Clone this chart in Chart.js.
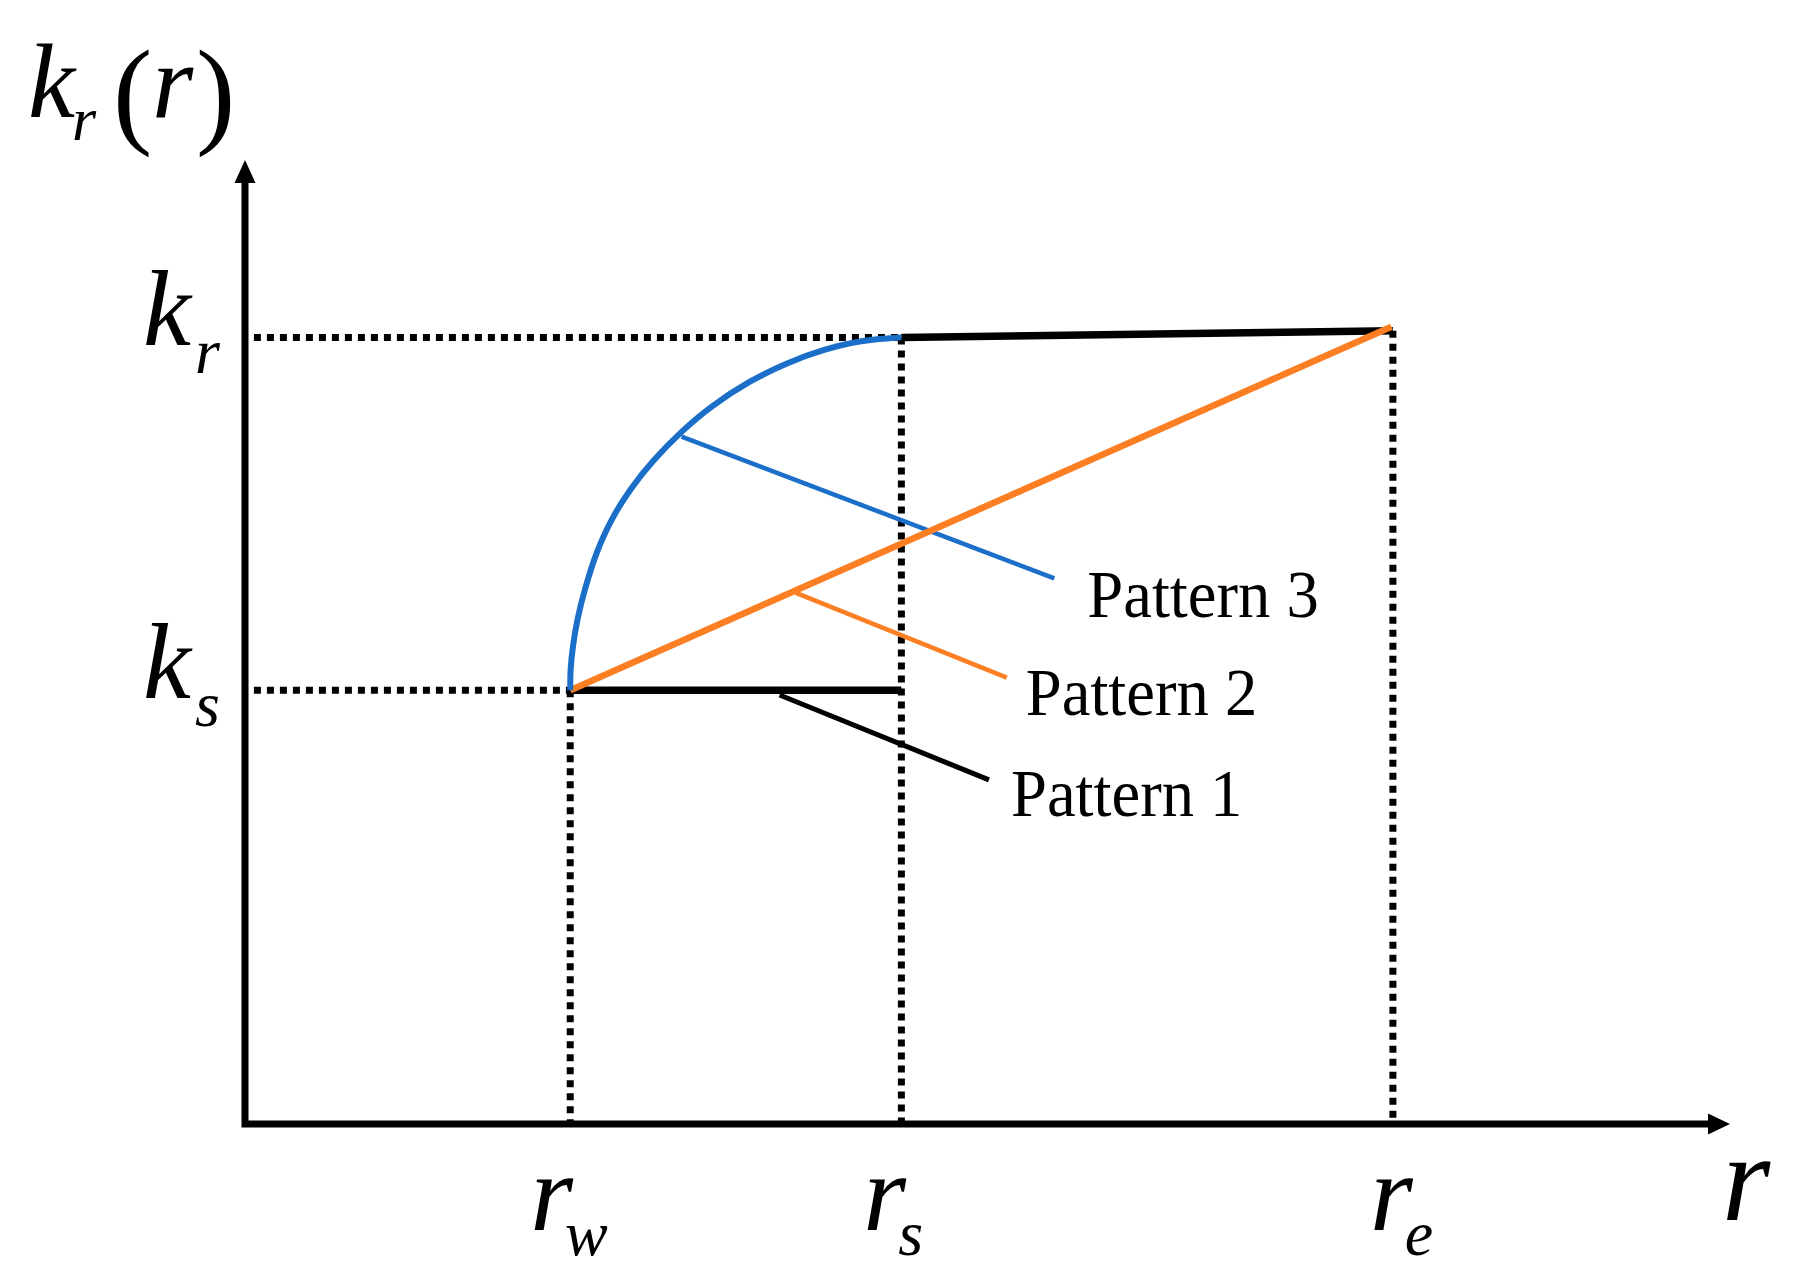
<!DOCTYPE html>
<html>
<head>
<meta charset="utf-8">
<script src="https://cdn.jsdelivr.net/npm/chart.js@4/dist/chart.umd.min.js"></script>
<style>
html,body{margin:0;padding:0;background:#fff;}
canvas{display:block;}
</style>
</head>
<body>
<canvas id="c" width="1798" height="1288"></canvas>
<script>
// ---- data (schematic units, axis origin = 0, arrow tips = 10) ----
const rw = 2.19, rs = 4.42, re = 7.73;          // radial positions
const ks = 4.50, kr = 8.16, krEnd = 8.23;       // permeability levels
const xMarkValues = [rw, rs, re];
const xMarkSubs = ['w', 's', 'e'];
const yMarkValues = [ks, kr];
const yMarkSubs = ['s', 'r'];

// Pattern 1: constant ks to rs, then kr
const pattern1Low = [{x: rw, y: ks}, {x: rs, y: ks}];
const pattern1High = [{x: rs, y: kr}, {x: re, y: krEnd}];
// Pattern 2: linear from ks at rw to kr at re
const pattern2 = [{x: rw, y: ks}, {x: 7.72, y: 8.27}];
// Pattern 3: curve rising from ks at rw to kr at rs
const pattern3 = [
  {x: 2.19, y: 4.50}, {x: 2.193, y: 4.72}, {x: 2.21, y: 4.97}, {x: 2.24, y: 5.24},
  {x: 2.29, y: 5.55}, {x: 2.37, y: 5.93}, {x: 2.47, y: 6.27}, {x: 2.60, y: 6.59},
  {x: 2.75, y: 6.88}, {x: 2.94, y: 7.18}, {x: 3.15, y: 7.45}, {x: 3.40, y: 7.70},
  {x: 3.65, y: 7.89}, {x: 3.90, y: 8.03}, {x: 4.15, y: 8.12}, {x: 4.42, y: 8.16}
];
// callout leader lines
const leader3 = [{x: 2.94, y: 7.13}, {x: 5.45, y: 5.66}];
const leader2 = [{x: 3.71, y: 5.51}, {x: 5.13, y: 4.63}];
const leader1 = [{x: 3.60, y: 4.45}, {x: 5.01, y: 3.57}];
const patternNames = ['Pattern 3', 'Pattern 2', 'Pattern 1'];

// ---- styles ----
const BLUE = '#1b6fc8', ORANGE = '#fd7f23', BLACK = '#000';
const dotted = {borderColor: BLACK, borderWidth: 7, borderDash: [7, 6], borderCapStyle: 'butt'};

function line(data, extra) {
  return Object.assign({data: data, showLine: true, pointRadius: 0, pointHoverRadius: 0,
    fill: false, clip: false, tension: 0}, extra);
}

const datasets = [
  line([{x: 0.06, y: kr}, {x: rs, y: kr}], Object.assign({order: 9}, dotted)),
  line([{x: 0.06, y: ks}, {x: rw, y: ks}], Object.assign({order: 9}, dotted)),
  line([{x: rw, y: ks}, {x: rw, y: 0}], Object.assign({order: 9}, dotted)),
  line([{x: rs, y: kr}, {x: rs, y: 0}], Object.assign({order: 9}, dotted)),
  line([{x: re, y: krEnd}, {x: re, y: 0}], Object.assign({order: 9}, dotted)),
  line(pattern1High, {borderColor: BLACK, borderWidth: 7.5, order: 5}),
  line(pattern1Low, {borderColor: BLACK, borderWidth: 7.5, order: 5}),
  line(pattern2, {borderColor: ORANGE, borderWidth: 6.5, order: 3}),
  line(pattern3, {borderColor: BLUE, borderWidth: 6, tension: 0.4, order: 2}),
  line(leader3, {borderColor: BLUE, borderWidth: 4.5, order: 4}),
  line(leader2, {borderColor: ORANGE, borderWidth: 4.5, order: 4}),
  line(leader1, {borderColor: BLACK, borderWidth: 5, order: 4})
];

// annotation layout (pixel offsets / font sizes)
const SERIF = '"Liberation Serif", "Times New Roman", serif';
const labelAnchors = [leader3[1], leader2[1], leader1[1]];
const labelOffsets = [{dx: 33, dy: 39}, {dx: 19, dy: 37}, {dx: 22, dy: 36}];
const xMarkShift = [0, 2, 17];

const drawPlugin = {
  id: 'schematic',
  afterDatasetsDraw(chart) {
    const ctx = chart.ctx;
    const xs = chart.scales.x, ys = chart.scales.y;
    const x0 = xs.getPixelForValue(0), y0 = ys.getPixelForValue(0);
    const xEnd = xs.getPixelForValue(10), yEnd = ys.getPixelForValue(10);
    ctx.save();
    ctx.fillStyle = BLACK; ctx.strokeStyle = BLACK; ctx.lineWidth = 7; ctx.lineCap = 'butt';
    // axes
    ctx.beginPath();
    ctx.moveTo(x0 - 3.5, y0); ctx.lineTo(xEnd - 18, y0);
    ctx.moveTo(x0, y0 + 3.5); ctx.lineTo(x0, yEnd + 18);
    ctx.stroke();
    // arrowheads
    ctx.beginPath();
    ctx.moveTo(xEnd, y0); ctx.lineTo(xEnd - 22, y0 - 10.5); ctx.lineTo(xEnd - 22, y0 + 10.5); ctx.closePath();
    ctx.moveTo(x0, yEnd); ctx.lineTo(x0 - 10.5, yEnd + 23); ctx.lineTo(x0 + 10.5, yEnd + 23); ctx.closePath();
    ctx.fill();

    ctx.textBaseline = 'alphabetic';
    ctx.textAlign = 'left';
    // x marks r_w, r_s, r_e
    xMarkValues.forEach((v, i) => {
      const px = xs.getPixelForValue(v) + xMarkShift[i];
      ctx.font = 'italic 110px ' + SERIF;
      ctx.fillText('r', px - 40, y0 + 106);
      const w = ctx.measureText('r').width;
      ctx.font = 'italic 64px ' + SERIF;
      ctx.fillText(xMarkSubs[i], px - 40 + w - 8, y0 + 131);
    });
    // y marks k_s, k_r
    yMarkValues.forEach((v, i) => {
      const py = ys.getPixelForValue(v);
      ctx.font = 'italic 108px ' + SERIF;
      ctx.fillText('k', x0 - 102, py + 8);
      ctx.font = 'italic 64px ' + SERIF;
      ctx.fillText(yMarkSubs[i], x0 - 50, py + 36);
    });
    // axis titles
    ctx.font = 'italic 106px ' + SERIF;
    ctx.fillText('k', 28, 117);
    ctx.fillText('r', 152, 117);
    ctx.font = 'italic 62px ' + SERIF;
    ctx.fillText('r', 72, 140);
    ctx.font = '118px ' + SERIF;
    ctx.fillText('(', 113, 132);
    ctx.fillText(')', 196, 132);
    ctx.font = 'italic 124px ' + SERIF;
    ctx.fillText('r', xEnd - 8, y0 + 96);

    // pattern labels
    ctx.font = '68px ' + SERIF;
    labelAnchors.forEach((p, i) => {
      const px = xs.getPixelForValue(p.x) + labelOffsets[i].dx;
      const py = ys.getPixelForValue(p.y) + labelOffsets[i].dy;
      ctx.save();
      ctx.translate(px, py);
      ctx.scale(0.95, 1);
      ctx.fillText(patternNames[i], 0, 0);
      ctx.restore();
    });
    ctx.restore();
  }
};

new Chart(document.getElementById('c'), {
  type: 'scatter',
  data: {datasets: datasets},
  options: {
    responsive: false,
    devicePixelRatio: 1,
    animation: false,
    layout: {padding: {left: 245, right: 68, top: 160, bottom: 164}},
    scales: {
      x: {type: 'linear', min: 0, max: 10, display: false},
      y: {type: 'linear', min: 0, max: 10, display: false}
    },
    plugins: {legend: {display: false}, tooltip: {enabled: false}},
    events: []
  },
  plugins: [drawPlugin]
});
</script>
</body>
</html>
